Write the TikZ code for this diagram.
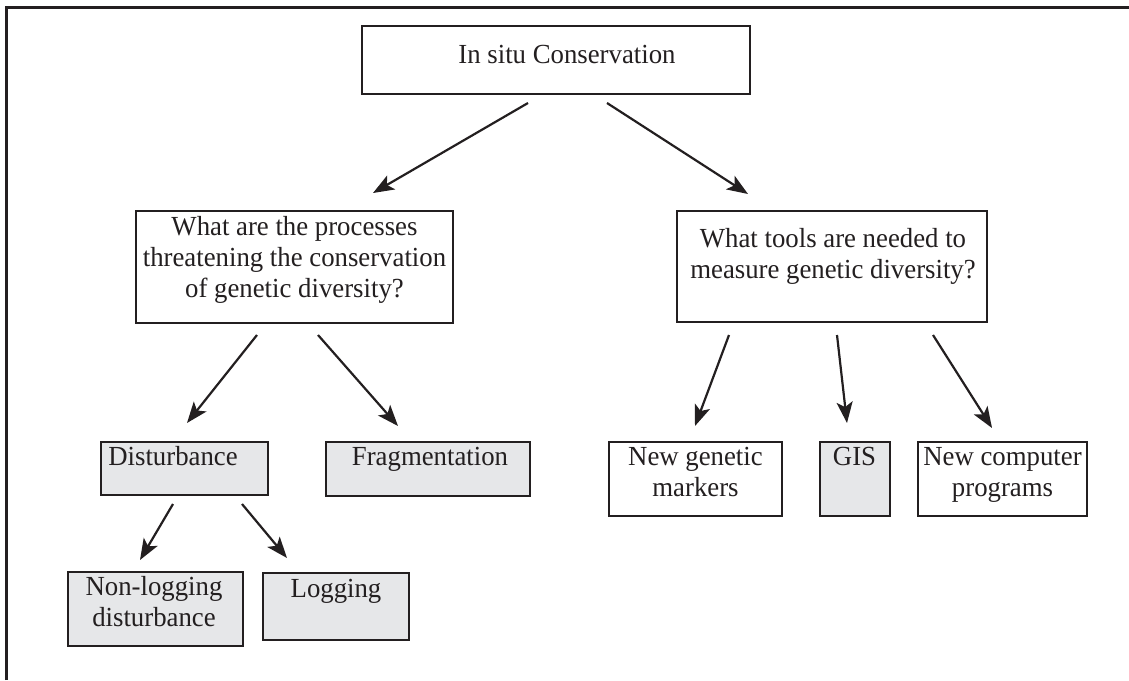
\documentclass[tikz,border=0pt]{standalone}
\usepackage{fontspec}
\setmainfont{Liberation Serif}[FakeStretch=0.97]
\usetikzlibrary{arrows.meta}
\definecolor{ink}{HTML}{231F20}
\definecolor{shade}{HTML}{E6E7E9}
\begin{document}
\begin{tikzpicture}[x=1pt,y=-1pt,
  box/.style={draw=ink, line width=2.4pt, inner sep=0pt, outer sep=0pt},
  graybox/.style={box, fill=shade},
  txt/.style={inner sep=0pt, outer sep=0pt, text=ink, font=\fontsize{27.6}{31}\selectfont, anchor=base},
  arr/.style={draw=ink, line width=2.2pt, -{Stealth[length=21pt,width=16pt,inset=5pt]}}
]
\useasboundingbox (0,0) rectangle (1129,680);
% outer frame (top and left only)
\draw[ink, line width=3pt] (6,680) -- (6,7) -- (1129,7);

% boxes
\node[box, minimum width=388pt, minimum height=68pt] (insitu) at (556,60) {};
\node[box, minimum width=317pt, minimum height=112pt] (q1) at (294.5,267) {};
\node[box, minimum width=310pt, minimum height=111pt] (q2) at (832,266.5) {};
\node[graybox, minimum width=167pt, minimum height=53pt] (dist) at (184.5,468.5) {};
\node[graybox, minimum width=204pt, minimum height=54pt] (frag) at (428,469) {};
\node[graybox, minimum width=175pt, minimum height=74pt] (nonlog) at (155.5,609) {};
\node[graybox, minimum width=146pt, minimum height=67pt] (log) at (336,606.5) {};
\node[box, minimum width=173pt, minimum height=74pt] (ngm) at (695.5,479) {};
\node[graybox, minimum width=70pt, minimum height=74pt] (gis) at (855,479) {};
\node[box, minimum width=169pt, minimum height=74pt] (ncp) at (1002.5,479) {};

% texts
\node[txt] (tinsitu) at (567,63) {In situ Conservation};
\node[txt] (tq1) at (294.5,235) {\begin{tabular}[t]{@{}c@{}}What are the processes\\threatening the conservation\\of genetic diversity?\end{tabular}};
\node[txt] (tq2) at (833,247) {\begin{tabular}[t]{@{}c@{}}What tools are needed to\\measure genetic diversity?\end{tabular}};
\node[txt] (tdist) at (173,465) {Disturbance};
\node[txt] (tfrag) at (430,465) {Fragmentation};
\node[txt] (tnonlog) at (154,595) {\begin{tabular}[t]{@{}c@{}}Non-logging\\disturbance\end{tabular}};
\node[txt] (tlog) at (336,597) {Logging};
\node[txt] (tngm) at (695.5,465) {\begin{tabular}[t]{@{}c@{}}New genetic\\markers\end{tabular}};
\node[txt] (tgis) at (854.5,465) {GIS};
\node[txt] (tncp) at (1002.5,465) {\begin{tabular}[t]{@{}c@{}}New computer\\programs\end{tabular}};

% arrow end points
\coordinate (a1s) at (528,103);  \coordinate (a1e) at (373,193);
\coordinate (a2s) at (607,103);  \coordinate (a2e) at (748,194);
\coordinate (a3s) at (257,335);  \coordinate (a3e) at (187,423);
\coordinate (a4s) at (318,335);  \coordinate (a4e) at (398,426);
\coordinate (a5s) at (173,504);  \coordinate (a5e) at (140,560);
\coordinate (a6s) at (242,504);  \coordinate (a6e) at (287,558);
\coordinate (a7s) at (729,335);  \coordinate (a7e) at (695,426);
\coordinate (a8s) at (837,335);  \coordinate (a8e) at (847,423);
\coordinate (a9s) at (933,335);  \coordinate (a9e) at (992,428);

\draw[arr] (a1s) -- (a1e);
\draw[arr] (a2s) -- (a2e);
\draw[arr] (a3s) -- (a3e);
\draw[arr] (a4s) -- (a4e);
\draw[arr] (a5s) -- (a5e);
\draw[arr] (a6s) -- (a6e);
\draw[arr] (a7s) -- (a7e);
\draw[arr] (a8s) -- (a8e);
\draw[arr] (a9s) -- (a9e);
\end{tikzpicture}
\end{document}
